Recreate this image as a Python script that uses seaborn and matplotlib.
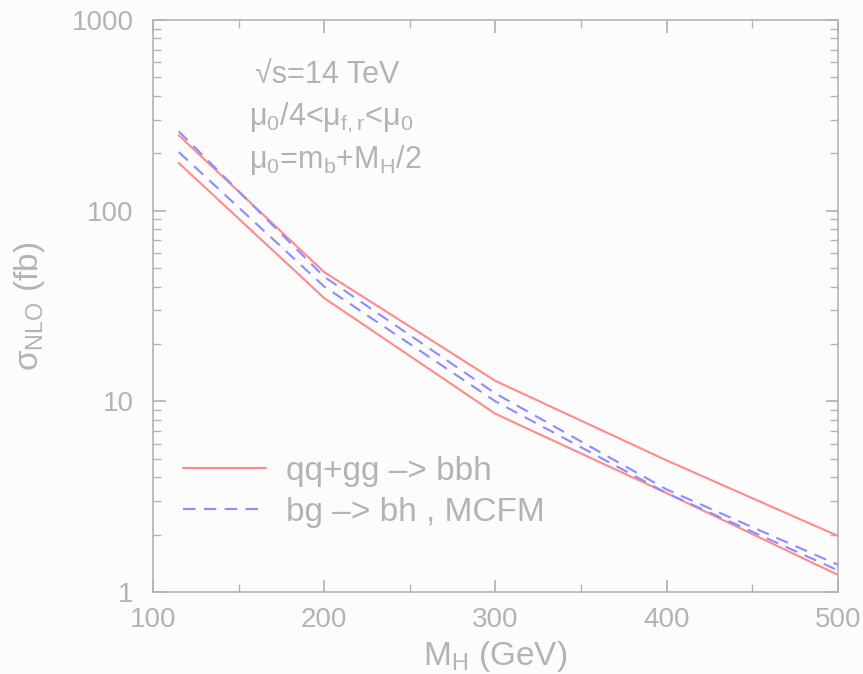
import numpy as np
import pandas as pd
import matplotlib
matplotlib.use("Agg")
import matplotlib.pyplot as plt
import seaborn as sns
from matplotlib.lines import Line2D
from matplotlib.ticker import FixedLocator, NullFormatter

# Higgs mass points (GeV)
mh = [115, 200, 300, 400, 500]
# qq+gg -> bbh band (fb)
bbh_hi = [249, 47.6, 12.8, 4.9, 1.97]
bbh_lo = [178, 34.8, 8.6, 3.3, 1.23]
# bg -> bh, MCFM band (fb)
bh_hi = [261, 45, 11.0, 3.45, 1.39]
bh_lo = [203, 40, 10.0, 3.3, 1.30]

grey = "#b3b3b3"
red = "#ff8a8a"
blue = "#8c8cff"

sns.set_theme(style="ticks")
plt.rcParams["font.family"] = ["Liberation Sans", "DejaVu Sans"]

fig = plt.figure(figsize=(8.63, 6.74), dpi=100, facecolor="#fcfcfc")
ax = fig.add_axes([0.1773, 0.1217, 0.7935, 0.8486])
ax.set_facecolor("#fcfcfc")

df = pd.DataFrame({"mh": mh * 4,
                   "sigma": bbh_hi + bbh_lo + bh_hi + bh_lo,
                   "curve": ["bbh_hi"] * 5 + ["bbh_lo"] * 5 + ["bh_hi"] * 5 + ["bh_lo"] * 5})

for name, col, ls in [("bbh_hi", red, "-"), ("bbh_lo", red, "-"),
                      ("bh_hi", blue, (0, (6, 4))), ("bh_lo", blue, (0, (6, 4)))]:
    sns.lineplot(data=df[df.curve == name], x="mh", y="sigma", ax=ax,
                 color=col, linestyle=ls, linewidth=1.5, legend=False)

ax.set_yscale("log")
ax.set_xlim(100, 500)
ax.set_ylim(1, 1000)
ax.set_xticks([100, 200, 300, 400, 500])
ax.set_xticklabels(["100", "200", "300", "400", "500"])
ax.xaxis.set_minor_locator(FixedLocator([150, 250, 350, 450]))
ax.set_yticks([1, 10, 100, 1000])
ax.set_yticklabels(["1", "10", "100", "1000"])
ax.yaxis.set_minor_formatter(NullFormatter())

for s in ax.spines.values():
    s.set_color(grey)
    s.set_linewidth(1.2)
ax.tick_params(which="both", direction="in", top=True, right=True, colors=grey,
               labelcolor=grey, labelsize=20)
ax.tick_params(which="major", length=9)
ax.tick_params(which="minor", length=6)
ax.tick_params(axis="x", pad=11)
ax.tick_params(axis="y", pad=14)

ax.set_xlabel("M$_\\mathregular{H}$ (GeV)", color=grey, fontsize=24, labelpad=4)
ax.set_ylabel("σ$_\\mathregular{NLO}$ (fb)", color=grey, fontsize=24, labelpad=18)

ax.text(0.149, 0.904, "√s=14 TeV", transform=ax.transAxes, color=grey,
        fontsize=22, va="center")
ax.text(0.14, 0.829, "μ$_\\mathregular{0}$/4<μ$_\\mathregular{f,r}$<μ$_\\mathregular{0}$",
        transform=ax.transAxes, color=grey, fontsize=22, va="center")
ax.text(0.14, 0.755, "μ$_\\mathregular{0}$=m$_\\mathregular{b}$+M$_\\mathregular{H}$/2",
        transform=ax.transAxes, color=grey, fontsize=22, va="center")

handles = [Line2D([], [], color=red, lw=1.5),
           Line2D([], [], color=blue, lw=1.5, linestyle=(0, (6, 4)))]
leg = ax.legend(handles, ["qq+gg –> bbh", "bg –> bh , MCFM"], loc="lower left",
                bbox_to_anchor=(0.0, 0.06), frameon=False, fontsize=24,
                handlelength=2.5, handletextpad=0.6, labelspacing=0.3)
for t in leg.get_texts():
    t.set_color(grey)

fig.savefig("out.png", dpi=100, facecolor=fig.get_facecolor())
